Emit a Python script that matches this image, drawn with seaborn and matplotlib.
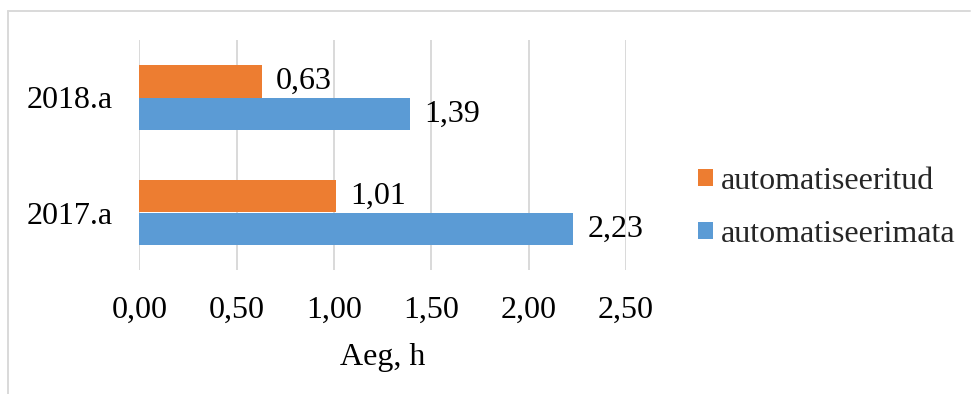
import matplotlib
matplotlib.use("Agg")
import matplotlib.pyplot as plt
from matplotlib.lines import Line2D
from matplotlib.patches import Patch
import seaborn as sns
import pandas as pd

# ---- data ----
years = ["2018.a", "2017.a"]
series_names = ["automatiseeritud", "automatiseerimata"]
automatiseeritud = [0.63, 1.01]
automatiseerimata = [1.39, 2.23]
xticks = [0.0, 0.5, 1.0, 1.5, 2.0, 2.5]
x_label = "Aeg, h"
colors = ["#ED7D31", "#5B9BD5"]

df = pd.DataFrame({
    "year": years * 2,
    "series": [series_names[0]] * len(years) + [series_names[1]] * len(years),
    "value": automatiseeritud + automatiseerimata,
})

sns.set_style("white")
plt.rcParams["font.family"] = ["Liberation Serif", "DejaVu Serif"]
FS = 23

W, H = 971, 394
fig = plt.figure(figsize=(W / 100, H / 100), dpi=100)
ax = fig.add_axes([139.3 / W, 1 - 270 / H, (626 - 139.3) / W, 230 / H])

sns.barplot(data=df, x="value", y="year", hue="series", hue_order=series_names,
            order=years, palette=colors, saturation=1, width=0.57, gap=0,
            orient="h", legend=False, edgecolor="none", linewidth=0, ax=ax)

ax.set_xlim(0, 2.5)
ax.set_ylim(1.5, -0.5)
ax.set_xticks(xticks)
ax.set_xticklabels([f"{t:.2f}".replace(".", ",") for t in xticks], fontsize=FS)
ax.set_yticklabels(years, fontsize=FS)
ax.set_ylabel("")
ax.set_xlabel(x_label, fontsize=FS, labelpad=13, color="black")
ax.tick_params(axis="x", length=0, pad=18.5, colors="black")
ax.tick_params(axis="y", length=0, pad=19, colors="black")
ax.grid(axis="x", color="#D9D9D9", linewidth=1.4)
ax.grid(axis="y", visible=False)
ax.set_axisbelow(True)
for s in ax.spines.values():
    s.set_visible(False)

for cont in ax.containers:
    vals = [b.get_width() for b in cont]
    ax.bar_label(cont, labels=[f"{v:.2f}".replace(".", ",") for v in vals],
                 padding=10, fontsize=FS, color="black")

handles = [Patch(facecolor=c, edgecolor="none") for c in colors]
fig.legend(handles, series_names, loc="center left",
           bbox_to_anchor=(698 / W, 1 - 208 / H), frameon=False, fontsize=FS,
           handlelength=0.47, handleheight=0.47, handletextpad=0.25,
           labelspacing=0.75, borderpad=0, borderaxespad=0)

# outer chart border (left and top visible)
bc = "#D9D9D9"
fig.add_artist(Line2D([8 / W, 8 / W], [0, 1 - 11 / H], transform=fig.transFigure,
                      color=bc, linewidth=1.4))
fig.add_artist(Line2D([8 / W, 970 / W], [1 - 11 / H, 1 - 11 / H],
                      transform=fig.transFigure, color=bc, linewidth=1.4))

fig.savefig("out.png", dpi=100, facecolor="white")
